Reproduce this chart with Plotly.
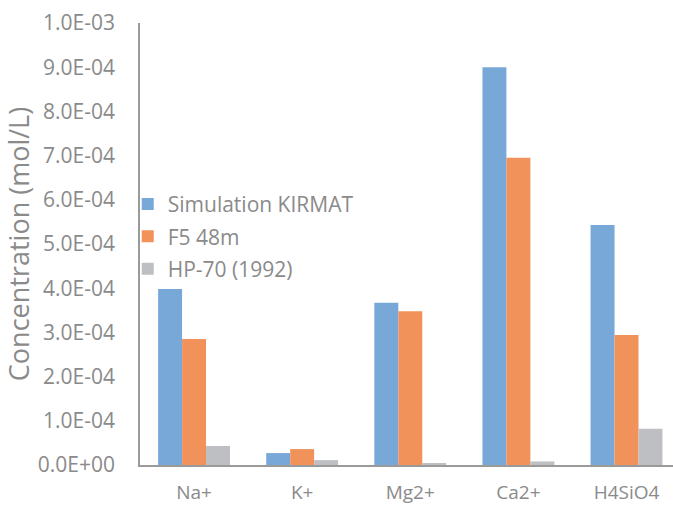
import plotly.graph_objects as go

categories = ["Na+", "K+", "Mg2+", "Ca2+", "H4SiO4"]
sim_kirmat = [3.98e-4, 2.7e-5, 3.67e-4, 9.0e-4, 5.43e-4]
f5_48m = [2.85e-4, 3.6e-5, 3.48e-4, 6.95e-4, 2.94e-4]
hp70_1992 = [4.3e-5, 1.1e-5, 4.5e-6, 8e-6, 8.2e-5]
y_ticks = [i * 1e-4 for i in range(11)]
y_ticktext = ["0.0E+00"] + [f"{i}.0E-04" for i in range(1, 10)] + ["1.0E-03"]

FONT = "Open Sans"
TXT = "#8a8a8a"

fig = go.Figure()
series = [
    ("Simulation KIRMAT", sim_kirmat, "#78A8D8"),
    ("F5 48m", f5_48m, "#F0925A"),
    ("HP-70 (1992)", hp70_1992, "#BEBFC2"),
]
for i, (name, vals, col) in enumerate(series):
    fig.add_trace(go.Bar(
        x=list(range(len(categories))), y=vals, name=name,
        marker=dict(color=col, line=dict(width=0)),
        legendgroup=f"g{i}",
    ))

fig.update_layout(
    width=673, height=506,
    margin=dict(l=140, r=0, t=23, b=41, autoexpand=False),
    paper_bgcolor="white", plot_bgcolor="white",
    barmode="group", bargap=0.335, bargroupgap=0,
    font=dict(family=FONT, size=21, color=TXT),
    showlegend=True,
    legend=dict(
        x=-0.023, y=0.636, xanchor="left", yanchor="top",
        font=dict(family=FONT, size=21, color=TXT),
        bgcolor="rgba(0,0,0,0)", tracegroupgap=2,
        itemwidth=30,
    ),
    xaxis=dict(
        tickmode="array", tickvals=list(range(len(categories))), ticktext=categories,
        range=[-0.5, 4.43], showgrid=False, zeroline=False,
        showline=True, linecolor="#9a9a9a", linewidth=1.5,
        ticks="", ticklabelstandoff=9, automargin=False,
        tickfont=dict(family=FONT, size=19, color=TXT),
    ),
    yaxis=dict(
        range=[0, 1e-3], tickmode="array", tickvals=y_ticks, ticktext=y_ticktext,
        showgrid=False, zeroline=False, automargin=False,
        showline=True, linecolor="#9a9a9a", linewidth=1.5,
        ticks="", ticklabelstandoff=19,
        tickfont=dict(family=FONT, size=21, color=TXT),
        title=dict(text="Concentration (mol/L)\u00a0\u00a0", font=dict(family=FONT, size=27, color=TXT), standoff=8),
    ),
)

fig.write_html(
    "out.html",
    config={"displayModeBar": False},
    post_script="document.body.style.margin='0';document.body.style.overflow='hidden';",
)
